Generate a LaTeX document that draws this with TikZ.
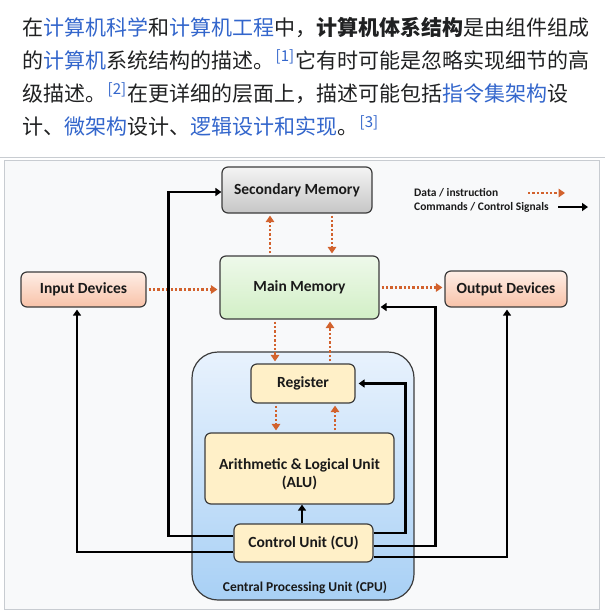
\documentclass[tikz,border=0pt]{standalone}
\usepackage{fontspec}
\usetikzlibrary{arrows.meta}
\newfontfamily\cjk{Noto Sans CJK SC}
\newfontfamily\carlito{Carlito}
\definecolor{linkblue}{RGB}{51,102,204}
\definecolor{textc}{RGB}{32,33,34}
\definecolor{darktext}{RGB}{26,26,26}
\definecolor{framebg}{RGB}{248,249,250}
\definecolor{framegray}{RGB}{200,204,209}
\definecolor{bordergray}{RGB}{60,60,60}
\definecolor{dataorange}{RGB}{210,98,45}
\definecolor{secTop}{RGB}{244,244,244}
\definecolor{secBot}{RGB}{198,198,198}
\definecolor{mainTop}{RGB}{238,249,234}
\definecolor{mainBot}{RGB}{210,239,198}
\definecolor{ioTop}{RGB}{254,238,230}
\definecolor{ioBot}{RGB}{248,194,168}
\definecolor{cpuTop}{RGB}{232,242,253}
\definecolor{cpuBot}{RGB}{168,208,245}
\definecolor{cream}{RGB}{255,240,200}
\newcommand{\lk}[1]{\textcolor{linkblue}{#1}}
\newcommand{\refsup}[1]{\textcolor{linkblue}{\hspace{1.5pt}\raisebox{6.5pt}{\fontsize{15}{15}\selectfont[#1]}\hspace{1.5pt}}}
\begin{document}
\begin{tikzpicture}[x=1pt,y=-1pt,
  cjkline/.style={anchor=base west, inner sep=0pt, text=textc, font=\cjk\fontsize{21}{21}\selectfont},
  box/.style={draw=bordergray, line width=1.2pt, rounded corners=6pt, inner sep=0pt, align=center,
     text=darktext, font=\carlito\bfseries\fontsize{15.5}{18}\selectfont},
  secbox/.style={box, top color=secTop, bottom color=secBot},
  mainbox/.style={box, top color=mainTop, bottom color=mainBot},
  iobox/.style={box, top color=ioTop, bottom color=ioBot},
  cpubox/.style={draw=bordergray, line width=1.2pt, rounded corners=26pt, inner sep=0pt, top color=cpuTop, bottom color=cpuBot},
  creambox/.style={box, fill=cream},
  legendtext/.style={anchor=west, inner sep=0pt, text=darktext, font=\carlito\bfseries\fontsize{11.5}{13}\selectfont},
  dataarrow/.style={draw=dataorange, line width=2.8pt, dash pattern=on 2.4pt off 2pt,
     -{Triangle[length=6.5pt,width=8.5pt]}, shorten >=2pt, shorten <=2pt},
  ctrlarrow/.style={draw=black, line width=2.4pt, -{Triangle[length=6pt,width=8pt]}}
]
\useasboundingbox (0,0) rectangle (605,613);
\fill[white] (0,0) rectangle (605,613);

% paragraph
\node[cjkline] (l1) at (22,35) {在\lk{计算机科学}和\lk{计算机工程}中，{\bfseries 计算机体系结构}是由组件组成};
\node[cjkline] (l2) at (22,68) {的\lk{计算机}系统结构的描述。\refsup{1}它有时可能是忽略实现细节的高};
\node[cjkline] (l3) at (22,101) {级描述。\refsup{2}在更详细的层面上，描述可能包括\lk{指令集架构}设};
\node[cjkline] (l4) at (22,134) {计、\lk{微架构}设计、\lk{逻辑设计和实现}。\refsup{3}};

% frame
\draw[framegray, line width=1pt] (0,157) -- (605,157);
\draw[framegray, fill=framebg, line width=1pt] (4,160) rectangle (599,609);

% CPU container
\node[cpubox, minimum width=222pt, minimum height=248pt] (cpu) at (303,476) {};
\node[inner sep=0pt, text=darktext, font=\carlito\bfseries\fontsize{13.5}{15}\selectfont] (cpulbl) at (305,588) {Central Processing Unit (CPU)};

% nodes
\node[secbox, minimum width=150pt, minimum height=46pt] (sec) at (297,190) {Secondary Memory};
\node[mainbox, minimum width=159pt, minimum height=63pt] (main) at (299.5,287.5) {Main Memory};
\node[iobox, minimum width=125pt, minimum height=35pt] (inp) at (83.5,289.5) {Input Devices};
\node[iobox, minimum width=122pt, minimum height=36pt] (out) at (506,289) {Output Devices};
\node[creambox, minimum width=104pt, minimum height=39pt] (reg) at (303,383.5) {Register};
\node[creambox, minimum width=189pt, minimum height=71pt] (alu) at (299.5,468.5) {\rule{0pt}{23pt}Arithmetic \& Logical Unit\\(ALU)};
\node[creambox, minimum width=139pt, minimum height=38pt] (cu) at (303.5,543) {Control Unit (CU)};

% legend
\node[legendtext] (lg1) at (414,193) {Data / instruction};
\node[legendtext] (lg2) at (414,207) {Commands / Control Signals};
\coordinate (d1) at (528,193);
\coordinate (d2) at (565,193);
\coordinate (c1) at (558,207);
\coordinate (c2) at (588,207);
\draw[dataarrow, shorten <=0pt, shorten >=0pt] (d1) -- (d2);
\draw[ctrlarrow] (c1) -- (c2);

% data arrows
\draw[dataarrow] (inp.east) -- (inp.east -| main.west);
\draw[dataarrow] (main.east) -- (main.east -| out.west);
\draw[dataarrow] ([xshift=-29.5pt]main.north) -- ([xshift=-29.5pt]main.north |- sec.south);
\draw[dataarrow] ([xshift=32.5pt]main.north |- sec.south) -- ([xshift=32.5pt]main.north);
\draw[dataarrow] ([xshift=-28pt]reg.north |- main.south) -- ([xshift=-28pt]reg.north);
\draw[dataarrow] ([xshift=27pt]reg.north) -- ([xshift=27pt]reg.north |- main.south);
\draw[dataarrow] ([xshift=-27pt]reg.south) -- ([xshift=-27pt]reg.south |- alu.north);
\draw[dataarrow] ([xshift=32pt]reg.south |- alu.north) -- ([xshift=32pt]reg.south);

% control arrows
\draw[ctrlarrow] ([xshift=-1.5pt]cu.north) -- ([xshift=-1.5pt]cu.north |- alu.south);
\draw[ctrlarrow] ([yshift=7pt]cu.west) -| ([xshift=-53pt, yshift=-2pt]sec.west) -- ([yshift=-2pt]sec.west);
\draw[ctrlarrow, shorten >=2pt] ([yshift=-9pt]cu.west) -| ([xshift=-6.5pt]inp.south);
\draw[ctrlarrow, shorten >=3pt] ([yshift=10pt]cu.east) -| ([xshift=50pt]reg.east) -- (reg.east);
\draw[ctrlarrow, shorten >=1pt] ([yshift=-3pt]cu.east) -| ([xshift=56pt, yshift=-19.5pt]main.east) -- ([yshift=-19.5pt]main.east);
\draw[ctrlarrow, shorten >=2pt] ([yshift=-14pt]cu.east) -| ([xshift=1pt]out.south);
\end{tikzpicture}
\end{document}
